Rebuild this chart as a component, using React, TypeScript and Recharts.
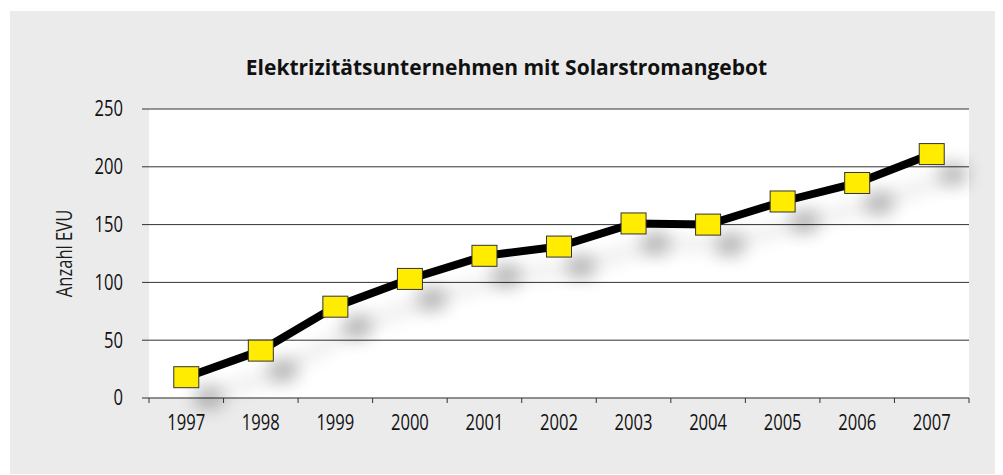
import { LineChart, Line, XAxis, YAxis, CartesianGrid } from "recharts"

const years = [1997, 1998, 1999, 2000, 2001, 2002, 2003, 2004, 2005, 2006, 2007]
const anzahl = [18, 41, 79, 103, 123, 131, 151, 150, 170, 186, 211]
const yTicks = [0, 50, 100, 150, 200, 250]

const title = "Elektrizitätsunternehmen mit Solarstromangebot"
const yLabel = "Anzahl EVU"

const data = years.map((y, i) => ({ jahr: y, anzahl: anzahl[i] }))
// Grenzen zwischen den Kategorien (Striche) plus Mitten (Beschriftung)
const xTicks = years.flatMap((y) => [y - 0.5, y]).concat(years[years.length - 1] + 0.5)

const font = "'Open Sans', 'Noto Sans', sans-serif"

// schmale Schrift nachbilden (Original ist eine Condensed-Schrift)
const condensed = (origin: string) => ({
    transform: "scaleX(0.79)",
    transformBox: "fill-box" as const,
    transformOrigin: origin,
})

function XTick(props: any) {
    const { x, y, payload } = props
    const v = payload.value
    if (v % 1 !== 0) {
        return <line x1={x} x2={x} y1={y - 5} y2={y} stroke="#333" strokeWidth={1} />
    }
    return (
        <text
            x={x}
            y={y + 27}
            textAnchor="middle"
            fill="#111"
            fontSize={21}
            fontFamily={font}
            style={condensed("50% 50%")}
        >
            {v}
        </text>
    )
}

function YTick(props: any) {
    const { x, y, payload } = props
    return (
        <text
            x={x}
            y={y}
            dy="0.35em"
            textAnchor="end"
            fill="#111"
            fontSize={21}
            fontFamily={font}
            style={condensed("100% 50%")}
        >
            {payload.value}
        </text>
    )
}

function Marker(props: any) {
    const { cx, cy, index } = props
    return (
        <g key={`m-${index}`}>
            <rect x={cx - 12.5 + 22} y={cy - 10.5 + 20} width={25} height={21} fill="#000" opacity={0.28} filter="url(#markShadow)" />
            <rect x={cx - 12.5} y={cy - 10.5} width={25} height={21} fill="#ffec00" stroke="#333" strokeWidth={1} />
        </g>
    )
}

export default function App() {
    return (
        <div
            style={{
                position: "relative",
                marginLeft: 2,
                marginTop: 3,
                width: 993,
                height: 463,
                background: "#ebebeb",
                fontFamily: font,
            }}
        >
            <style>{`.recharts-line-curve { filter: drop-shadow(22px 20px 9px rgba(0,0,0,0.12)); }`}</style>
            <div
                style={{
                    position: "absolute",
                    left: 0,
                    width: 993,
                    top: 42,
                    textAlign: "center",
                    fontSize: 21,
                    fontWeight: 700,
                    color: "#111",
                }}
            >
                {title}
            </div>
            <LineChart width={993} height={463} data={data} margin={{ top: 98, right: 34, left: 0, bottom: 0 }}>
                <defs>
                    <filter id="markShadow" x="-150%" y="-150%" width="400%" height="400%">
                        <feGaussianBlur stdDeviation="9" />
                    </filter>
                </defs>
                <CartesianGrid vertical={false} stroke="#333" fill="#fff" fillOpacity={1} />
                <XAxis
                    dataKey="jahr"
                    type="number"
                    domain={[1996.5, 2007.5]}
                    ticks={xTicks}
                    interval={0}
                    height={76}
                    tickSize={5}
                    tickMargin={0}
                    tickLine={false}
                    axisLine={{ stroke: "#888" }}
                    tick={XTick}
                />
                <YAxis
                    domain={[0, 250]}
                    ticks={yTicks}
                    width={139}
                    tickSize={7}
                    tickMargin={19}
                    axisLine={false}
                    tickLine={{ stroke: "#333" }}
                    tick={YTick}
                    label={{
                        content: ({ viewBox }: any) => (
                            <text
                                x={54}
                                y={viewBox.y + viewBox.height / 2}
                                transform={`rotate(-90, 54, ${viewBox.y + viewBox.height / 2}) translate(54, ${viewBox.y + viewBox.height / 2}) scale(0.79, 1) translate(-54, ${-(viewBox.y + viewBox.height / 2)})`}
                                textAnchor="middle"
                                dominantBaseline="central"
                                fill="#1a1a1a"
                                fontSize={21}
                                fontWeight={400}
                                fontFamily={font}
                            >
                                {yLabel}
                            </text>
                        ),
                    }}
                />
                <Line
                    dataKey="anzahl"
                    type="linear"
                    stroke="#000"
                    strokeWidth={8}
                    dot={Marker}
                    activeDot={false}
                    isAnimationActive={false}
                />
            </LineChart>
        </div>
    )
}
